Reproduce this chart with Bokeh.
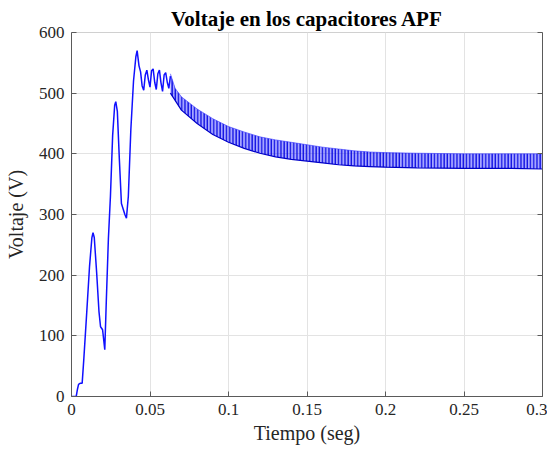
from bokeh.plotting import figure
from bokeh.models import Range1d, FixedTicker, LinearAxis, ColumnDataSource, CustomJSTickFormatter
from bokeh.embed import file_html
from bokeh.resources import INLINE

# --- data ---
# transient part (time in s, voltage in V)
t_trans = [0.0, 0.003, 0.0038, 0.0045, 0.0057, 0.0068, 0.0078, 0.0095, 0.0115,
           0.0130, 0.0137, 0.0145, 0.0160, 0.0175, 0.0185, 0.0198, 0.0212, 0.0222,
           0.0235, 0.0248, 0.0262, 0.0275, 0.0282, 0.0292, 0.0305, 0.0318, 0.0328,
           0.0340, 0.0350, 0.0362, 0.0378, 0.0395, 0.0410, 0.0418, 0.0430, 0.0440,
           0.0450, 0.0460, 0.0470, 0.0480, 0.0490, 0.0500, 0.0510, 0.0520, 0.0530,
           0.0540, 0.0550, 0.0560, 0.0570, 0.0580, 0.0590, 0.0600, 0.0610, 0.0620,
           0.0630]
v_trans = [0, 0, 12, 20, 22, 22, 60, 130, 215,
           262, 270, 262, 205, 140, 115, 110, 77, 160,
           260, 330, 430, 480, 486, 470, 390, 318, 310,
           300, 294, 330, 440, 520, 560, 570, 545, 535,
           512, 505, 530, 538, 522, 510, 537, 540, 518,
           506, 532, 538, 517, 503, 530, 534, 518, 508,
           528]

# ripple envelope after the transient
t_env = [0.063, 0.066, 0.07, 0.08, 0.09, 0.10, 0.11, 0.12, 0.13, 0.14, 0.15,
         0.16, 0.17, 0.18, 0.19, 0.20, 0.22, 0.25, 0.28, 0.30]
v_upper = [532, 508, 494, 474, 458, 445, 436, 428, 423, 419, 415,
           411, 408, 405, 403, 402, 401, 400, 400, 400]
v_lower = [500, 488, 472, 450, 432, 419, 409, 401, 395, 391, 388,
           385, 382, 380, 379, 378, 377, 376, 376, 375]

x_ticks = [0, 0.05, 0.1, 0.15, 0.2, 0.25, 0.3]
x_tick_labels = ["0", "0.05", "0.1", "0.15", "0.2", "0.25", "0.3"]
y_ticks = [0, 100, 200, 300, 400, 500, 600]

FONT = "Liberation Serif"
TXT = "#262626"
AX = "#5a5a5a"

p = figure(width=547, height=446, output_backend="svg", toolbar_location=None,
           x_range=Range1d(0, 0.3), y_range=Range1d(0, 600),
           min_border_left=71, min_border_right=5, min_border_top=32,
           min_border_bottom=49, title="Voltaje en los capacitores APF")

p.title.text_font = FONT
p.title.text_font_size = "21px"
p.title.text_font_style = "bold"
p.title.text_color = "#000000"
p.title.align = "center"
p.title.offset = 0
p.title.standoff = 3

src_env = ColumnDataSource(dict(t=t_env, up=v_upper, lo=v_lower))
p.varea(x="t", y1="lo", y2="up", source=src_env, fill_color="#2020ff", fill_alpha=0.4,
        hatch_pattern="vertical_line", hatch_color="#0000e0", hatch_scale=3.2,
        hatch_weight=1.4, hatch_alpha=0.9)
p.line(x="t", y="up", source=src_env, line_color="#3a3aff", line_width=1.0, line_alpha=0.6)
p.line(x="t", y="lo", source=src_env, line_color="#0000c8", line_width=1.2)

p.line(t_trans, v_trans, line_color="#1010ff", line_width=1.5)

for ax in (p.xaxis[0], p.yaxis[0]):
    ax.major_label_text_font = FONT
    ax.major_label_text_font_size = "17px"
    ax.major_label_text_color = TXT
    ax.axis_label_text_font = FONT
    ax.axis_label_text_font_size = "20px"
    ax.axis_label_text_font_style = "normal"
    ax.axis_label_text_color = TXT
    ax.axis_line_color = AX
    ax.major_tick_line_color = AX
    ax.major_tick_in = 5
    ax.major_tick_out = 0
    ax.minor_tick_line_color = None

p.xaxis.ticker = FixedTicker(ticks=x_ticks)
p.xaxis.major_label_overrides = {float(t): s for t, s in zip(x_ticks, x_tick_labels)}
p.xaxis.major_label_overrides.update({0: "0"})
p.yaxis.ticker = FixedTicker(ticks=y_ticks)
p.xaxis.axis_label = "Tiempo (seg)"
p.yaxis.axis_label = "Voltaje (V)"
p.xaxis.major_label_standoff = 7
p.yaxis.major_label_standoff = 7
p.xaxis.axis_label_standoff = 4
p.yaxis.axis_label_standoff = 9

r_ax = LinearAxis(ticker=FixedTicker(ticks=y_ticks),
                  formatter=CustomJSTickFormatter(code="return ''"),
                  axis_line_color=AX, major_tick_line_color=AX, major_tick_in=5,
                  major_tick_out=0, minor_tick_line_color=None, major_label_standoff=0)
p.add_layout(r_ax, "right")

p.xgrid.grid_line_color = "#e3e3e3"
p.ygrid.grid_line_color = "#e3e3e3"
p.outline_line_color = "#d0d0d0"
p.background_fill_color = "white"
p.border_fill_color = "white"

open("out.html", "w").write(file_html(p, INLINE))
